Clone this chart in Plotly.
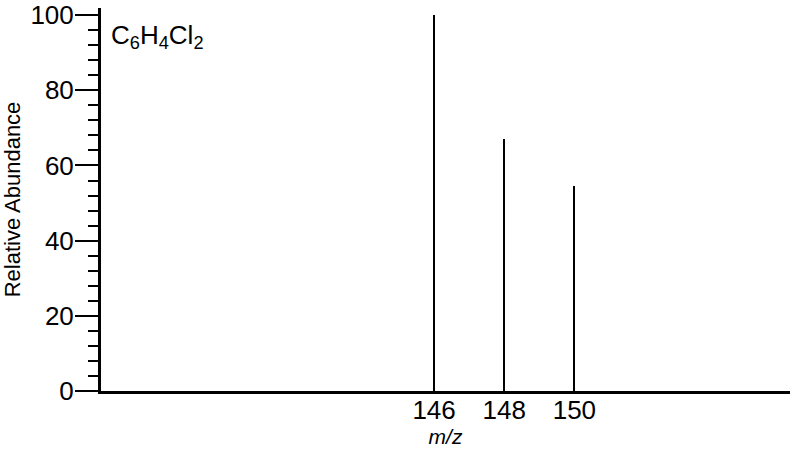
import plotly.graph_objects as go

# mass spectrum of C6H4Cl2 (molecular ion cluster)
mz = [146, 148, 150]
abundance = [100, 67, 54.5]
x_ticks = [146, 148, 150]
y_ticks = [0, 20, 40, 60, 80, 100]

FONT = "Liberation Sans, Arial, sans-serif"

fig = go.Figure()
fig.add_trace(go.Bar(
    x=mz, y=abundance, width=0.06,
    marker=dict(color="black", line=dict(width=0)),
    hoverinfo="x+y",
))

fig.update_layout(
    width=800, height=457,
    margin=dict(l=101, r=10, t=8, b=66),
    paper_bgcolor="white", plot_bgcolor="white",
    font=dict(family=FONT, size=26, color="black"),
    showlegend=False,
    bargap=0,
)

fig.update_xaxes(
    range=[136.5, 156.15],
    automargin=False,
    showline=True, linecolor="black", linewidth=3,
    showgrid=False, zeroline=False,
    tickvals=x_ticks, ticks="", ticklen=0,
    ticklabelstandoff=-6,
    title=dict(text="<i>m/z</i>", font=dict(size=21), standoff=6),
)

fig.update_yaxes(
    range=[0, 101.9],
    automargin=False,
    showline=True, linecolor="black", linewidth=3,
    showgrid=False, zeroline=False,
    tickvals=y_ticks, ticks="outside", ticklen=23, tickwidth=2, tickcolor="black",
    ticklabelstandoff=-4,
    minor=dict(dtick=4, ticks="outside", ticklen=10, tickwidth=2, tickcolor="black", showgrid=False),
    title=dict(text="Relative Abundance", font=dict(size=22), standoff=7),
)

fig.add_annotation(
    x=0.012, y=0.926, xref="paper", yref="paper",
    xanchor="left", yanchor="middle", showarrow=False,
    text="C<sub>6</sub>H<sub>4</sub>Cl<sub>2</sub>",
    font=dict(size=26),
)

# drop the default 8px page margin so the figure sits at the window corner
fig.write_html("out.html", config={"displayModeBar": False},
               post_script="document.body.style.margin='0';")
